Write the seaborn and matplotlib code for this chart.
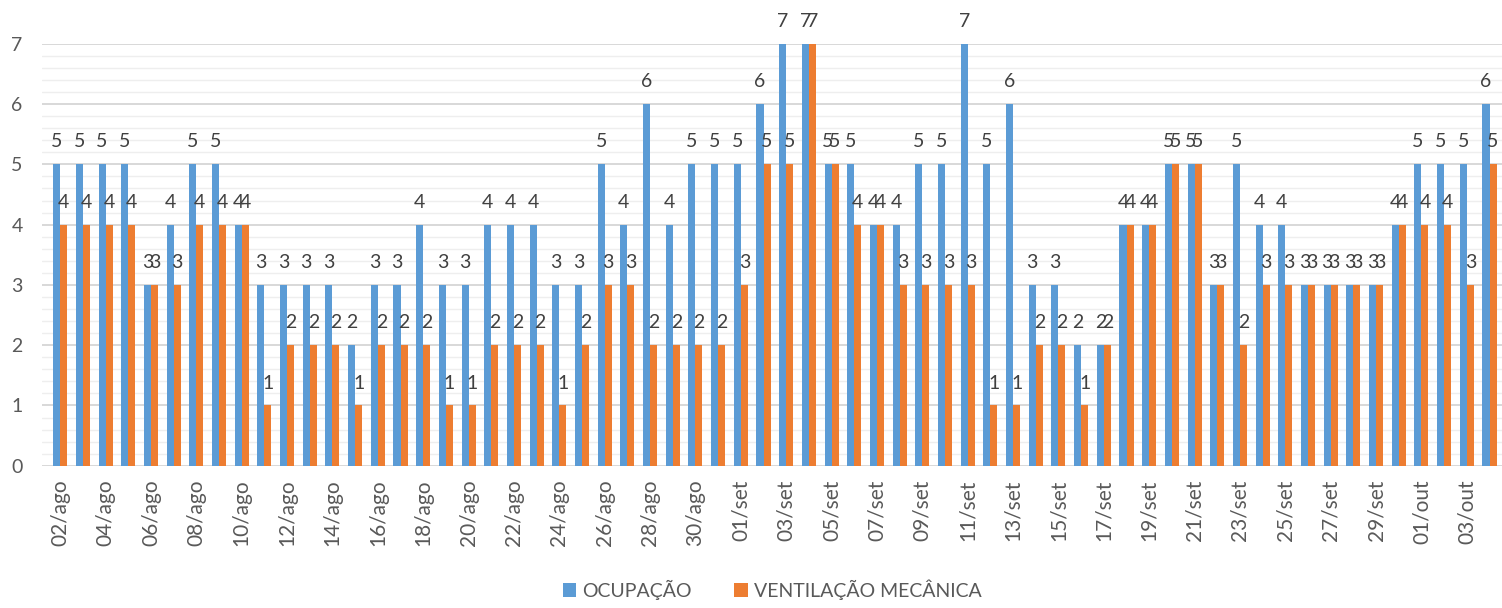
import matplotlib.pyplot as plt
import seaborn as sns
import pandas as pd
from matplotlib.ticker import MultipleLocator

# dias de 02/ago a 04/out
dias = ([f"{d:02d}/ago" for d in range(2, 32)]
        + [f"{d:02d}/set" for d in range(1, 31)]
        + [f"{d:02d}/out" for d in range(1, 5)])

ocupacao = [5, 5, 5, 5, 3, 4, 5, 5, 4, 3, 3, 3, 3, 2, 3, 3,
            4, 3, 3, 4, 4, 4, 3, 3, 5, 4, 6, 4, 5, 5, 5, 6,
            7, 7, 5, 5, 4, 4, 5, 5, 7, 5, 6, 3, 3, 2, 2, 4,
            4, 5, 5, 3, 5, 4, 4, 3, 3, 3, 3, 4, 5, 5, 5, 6]
ventilacao = [4, 4, 4, 4, 3, 3, 4, 4, 4, 1, 2, 2, 2, 1, 2, 2,
              2, 1, 1, 2, 2, 2, 1, 2, 3, 3, 2, 2, 2, 2, 3, 5,
              5, 7, 5, 4, 4, 3, 3, 3, 3, 1, 1, 2, 2, 1, 2, 4,
              4, 5, 5, 3, 2, 3, 3, 3, 3, 3, 3, 4, 4, 4, 3, 5]

series = ["OCUPAÇÃO", "VENTILAÇÃO MECÂNICA"]
tick_labels = dias[::2]

azul = "#5B9BD5"
laranja = "#ED7D31"
cinza = "#595959"

sns.set_style("white")
plt.rcParams["font.family"] = ["Lato", "DejaVu Sans"]

df = pd.DataFrame({
    "dia": dias * 2,
    "valor": ocupacao + ventilacao,
    "serie": [series[0]] * len(dias) + [series[1]] * len(dias),
})

fig, ax = plt.subplots(figsize=(15.02, 6.08), dpi=100)
fig.subplots_adjust(left=0.028, right=1.0, bottom=0.234, top=0.928)

sns.barplot(data=df, x="dia", y="valor", hue="serie", order=dias,
            hue_order=series, palette=[azul, laranja], saturation=1,
            width=0.62, linewidth=0, ax=ax)

for c in ax.containers:
    ax.bar_label(c, padding=10, fontsize=14, color="#404040")

ax.set_ylim(0, 7)
ax.set_xlim(-0.8, 63.55)
ax.set_yticks(range(8))
ax.yaxis.set_minor_locator(MultipleLocator(0.2))
ax.grid(which="major", axis="y", color="#d6d6d6", lw=1.3)
ax.grid(which="minor", axis="y", color="#eeeeee", lw=1)
ax.set_axisbelow(True)

ax.set_xticks(range(0, len(dias), 2))
ax.set_xticklabels(tick_labels, rotation=90)
ax.tick_params(axis="x", which="both", length=0, pad=10, labelsize=15, labelcolor=cinza)
ax.tick_params(axis="y", which="both", length=0, pad=14, labelsize=14, labelcolor=cinza)
ax.set_xlabel("")
ax.set_ylabel("")
sns.despine(ax=ax, left=True, bottom=True)

handles, labels = ax.get_legend_handles_labels()
ax.get_legend().remove()
fig.legend(handles, labels, loc="lower center", ncol=2, frameon=False,
           bbox_to_anchor=(0.514, -0.015), fontsize=14, labelcolor=cinza,
           handlelength=0.7, handleheight=0.7, handletextpad=0.3,
           columnspacing=2.2)

fig.savefig("out.png", dpi=100)
